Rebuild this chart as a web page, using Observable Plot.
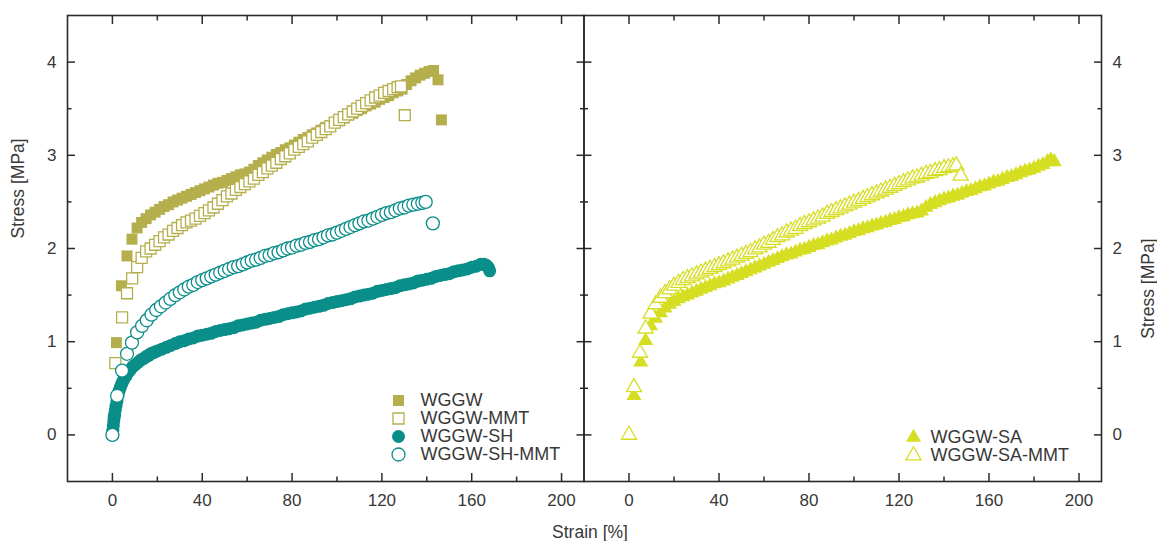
<!DOCTYPE html>
<html><head><meta charset="utf-8">
<script src="https://cdn.jsdelivr.net/npm/d3@7"></script>
<script src="https://cdn.jsdelivr.net/npm/@observablehq/plot@0.6"></script>
<style>
body{margin:0;background:#fff;font-family:"Liberation Sans",Arial,sans-serif;}
#wrap{position:relative;width:1157px;height:541px;overflow:hidden;background:#fff;}
#wrap > div{position:absolute;}
svg{overflow:visible;}
</style></head><body><div id="wrap"></div>
<script>
// ---- data: [strain %, stress MPa] ----
const wggw = [[1.8,0.99],[4,1.6],[6.5,1.92],[8.7,2.1],[11,2.22],[13,2.28],[15,2.32],[17,2.36],[19,2.39],[21,2.42],[23,2.45],[25,2.47],[27,2.5],[29,2.52],[31,2.54],[33,2.56],[35,2.58],[37,2.6],[39,2.62],[41,2.64],[43,2.66],[45,2.68],[47,2.7],[49,2.71],[51,2.73],[53,2.75],[55,2.77],[57,2.79],[59,2.8],[61,2.82],[63,2.85],[65,2.89],[67,2.92],[69,2.95],[71,2.98],[73,3.01],[75,3.03],[77,3.06],[79,3.08],[81,3.11],[83,3.14],[85,3.17],[87,3.19],[89,3.22],[91,3.24],[93,3.27],[95,3.3],[97,3.32],[99,3.35],[101,3.37],[103,3.4],[105,3.43],[107,3.45],[109,3.48],[111,3.5],[113,3.53],[115,3.55],[117,3.57],[119,3.6],[121,3.62],[123,3.64],[125,3.67],[127,3.69],[129,3.71],[131,3.76],[133,3.8],[135,3.83],[137,3.86],[139,3.88],[141,3.9],[143,3.91],[145,3.81],[146.5,3.38]];
const wggwMMT = [[1.3,0.77],[4.3,1.26],[6.5,1.52],[8.8,1.68],[11,1.8],[13,1.9],[15,1.97],[17,2.0],[19,2.04],[21,2.08],[23,2.12],[25,2.15],[27,2.19],[29,2.22],[31,2.25],[33,2.28],[35,2.3],[37,2.32],[39,2.35],[41,2.38],[43,2.41],[45,2.44],[47,2.48],[49,2.52],[51,2.56],[53,2.59],[55,2.63],[57,2.66],[59,2.69],[61,2.72],[63,2.75],[65,2.79],[67,2.82],[69,2.86],[71,2.89],[73,2.92],[75,2.96],[77,2.99],[79,3.02],[81,3.06],[83,3.09],[85,3.12],[87,3.15],[89,3.19],[91,3.22],[93,3.25],[95,3.28],[97,3.31],[99,3.35],[101,3.38],[103,3.41],[105,3.44],[107,3.47],[109,3.5],[111,3.53],[113,3.56],[115,3.59],[117,3.62],[119,3.64],[121,3.67],[123,3.69],[125,3.71],[127,3.73],[128.5,3.74],[130.2,3.43]];
const wggwSH = [[0,0],[0.2,0.05],[0.4,0.1],[0.6,0.15],[0.8,0.19],[1,0.22],[1.3,0.27],[1.6,0.31],[2,0.36],[2.5,0.42],[3,0.47],[3.5,0.51],[4,0.54],[4.5,0.57],[5,0.59],[6,0.63],[7,0.67],[8,0.7],[9,0.73],[10,0.75],[11,0.77],[12,0.79],[13,0.81],[14,0.82],[15,0.84],[16,0.85],[17,0.87],[18,0.88],[19,0.89],[20,0.9],[22,0.92],[24,0.94],[26,0.96],[28,0.98],[30,1.0],[32,1.01],[34,1.03],[36,1.04],[38,1.06],[40,1.07],[42,1.08],[44,1.09],[46,1.11],[48,1.12],[50,1.13],[52,1.14],[54,1.15],[56,1.17],[58,1.18],[60,1.19],[62,1.2],[64,1.21],[66,1.23],[68,1.24],[70,1.25],[72,1.26],[74,1.27],[76,1.29],[78,1.3],[80,1.31],[82,1.32],[84,1.33],[86,1.35],[88,1.36],[90,1.37],[92,1.38],[94,1.39],[96,1.41],[98,1.42],[100,1.43],[102,1.44],[104,1.45],[106,1.46],[108,1.48],[110,1.49],[112,1.5],[114,1.51],[116,1.52],[118,1.54],[120,1.55],[122,1.56],[124,1.57],[126,1.58],[128,1.6],[130,1.61],[132,1.62],[134,1.63],[136,1.65],[138,1.66],[140,1.67],[142,1.68],[144,1.7],[146,1.71],[148,1.72],[150,1.73],[152,1.75],[154,1.76],[156,1.77],[158,1.78],[160,1.8],[162,1.81],[164,1.83],[165.5,1.83],[166.5,1.82],[167.3,1.8],[168,1.76]];
const wggwSHMMT = [[0,0],[2.1,0.42],[4.3,0.69],[6.5,0.87],[8.7,0.99],[11,1.1],[13.2,1.17],[15.3,1.23],[17.4,1.29],[19.5,1.34],[21.6,1.38],[23.7,1.42],[25.8,1.46],[28,1.5],[30,1.53],[32,1.56],[34,1.59],[36,1.61],[38,1.64],[40,1.66],[42,1.68],[44,1.7],[46,1.72],[48,1.74],[50,1.76],[52,1.78],[54,1.8],[56,1.81],[58,1.83],[60,1.85],[62,1.87],[64,1.88],[66,1.9],[68,1.92],[70,1.93],[72,1.95],[74,1.96],[76,1.98],[78,2.0],[80,2.01],[82,2.03],[84,2.04],[86,2.06],[88,2.07],[90,2.09],[92,2.1],[94,2.12],[96,2.14],[98,2.15],[100,2.17],[102,2.19],[104,2.21],[106,2.23],[108,2.25],[110,2.27],[112,2.29],[114,2.3],[116,2.32],[118,2.34],[120,2.36],[122,2.38],[124,2.39],[126,2.41],[128,2.43],[130,2.44],[132,2.46],[134,2.47],[136,2.48],[138,2.49],[139.5,2.5],[142.7,2.27]];
const wggwSA = [[2.2,0.42],[5.2,0.78],[7.4,1.01],[9.6,1.17],[11.8,1.25],[14,1.31],[16,1.36],[18,1.4],[20,1.43],[22,1.46],[24,1.48],[26,1.5],[28,1.52],[30,1.54],[32,1.56],[34,1.58],[36,1.6],[38,1.62],[40,1.63],[42,1.65],[44,1.67],[46,1.69],[48,1.71],[50,1.73],[52,1.75],[54,1.77],[56,1.79],[58,1.81],[60,1.83],[62,1.85],[64,1.87],[66,1.89],[68,1.91],[70,1.93],[72,1.94],[74,1.96],[76,1.98],[78,1.99],[80,2.01],[82,2.03],[84,2.04],[86,2.06],[88,2.08],[90,2.09],[92,2.11],[94,2.13],[96,2.14],[98,2.16],[100,2.18],[102,2.19],[104,2.21],[106,2.22],[108,2.24],[110,2.25],[112,2.27],[114,2.28],[116,2.3],[118,2.31],[120,2.33],[122,2.34],[124,2.36],[126,2.37],[128,2.38],[130,2.4],[132,2.44],[134,2.47],[136,2.49],[138,2.51],[140,2.53],[142,2.54],[144,2.56],[146,2.57],[148,2.59],[150,2.61],[152,2.62],[154,2.64],[156,2.66],[158,2.67],[160,2.69],[162,2.71],[164,2.72],[166,2.74],[168,2.76],[170,2.77],[172,2.79],[174,2.81],[176,2.83],[178,2.84],[180,2.86],[182,2.88],[184,2.9],[186,2.93],[187.5,2.95],[189,2.93]];
const wggwSAMMT = [[0,0],[2.2,0.51],[4.9,0.88],[7.4,1.14],[9.6,1.3],[11.8,1.4],[14,1.47],[16,1.52],[18,1.56],[20,1.6],[22,1.63],[24,1.66],[26,1.68],[28,1.7],[30,1.72],[32,1.74],[34,1.76],[36,1.78],[38,1.8],[40,1.82],[42,1.84],[44,1.86],[46,1.88],[48,1.9],[50,1.92],[52,1.94],[54,1.96],[56,1.99],[58,2.01],[60,2.04],[62,2.06],[64,2.09],[66,2.12],[68,2.14],[70,2.17],[72,2.19],[74,2.21],[76,2.24],[78,2.26],[80,2.28],[82,2.3],[84,2.32],[86,2.34],[88,2.37],[90,2.39],[92,2.41],[94,2.43],[96,2.45],[98,2.47],[100,2.49],[102,2.51],[104,2.53],[106,2.55],[108,2.57],[110,2.59],[112,2.61],[114,2.63],[116,2.65],[118,2.67],[120,2.69],[122,2.71],[124,2.73],[126,2.75],[128,2.76],[130,2.78],[132,2.8],[134,2.81],[136,2.83],[138,2.84],[140,2.86],[142,2.87],[144,2.88],[145.5,2.89],[147.4,2.78]];

const xMajor = [0, 40, 80, 120, 160, 200];
const xMinor = [20, 60, 100, 140, 180];
const yMajor = [0, 1, 2, 3, 4];
const yMinor = [0.5, 1.5, 2.5, 3.5];
const xLabel = "Strain [%]";
const yLabel = "Stress [MPa]";
const leftNames = ["WGGW", "WGGW-MMT", "WGGW-SH", "WGGW-SH-MMT"];
const rightNames = ["WGGW-SA", "WGGW-SA-MMT"];

// ---- styles ----
const OLIVE = "#b4af4c", TEAL = "#0a8e89", YELLOW = "#d6de22";
const style = {
  "WGGW":        {data: wggw,      symbol: "square",   r: 6.2, color: OLIVE,  open: false},
  "WGGW-MMT":    {data: wggwMMT,   symbol: "square",   r: 6.2, color: OLIVE,  open: true},
  "WGGW-SH":     {data: wggwSH,    symbol: "circle",   r: 6.5, color: TEAL,   open: false},
  "WGGW-SH-MMT": {data: wggwSHMMT, symbol: "circle",   r: 6.5, color: TEAL,   open: true},
  "WGGW-SA":     {data: wggwSA,    symbol: "triangle", r: 5.6, color: YELLOW, open: false},
  "WGGW-SA-MMT": {data: wggwSAMMT, symbol: "triangle", r: 5.6, color: YELLOW, open: true}
};
const INK = "#2a2a2a", TXT = "#383838", FS = 17, LFS = 18;

function seriesMark(name, extra = {}) {
  const s = style[name];
  return Plot.dot(extra.data || s.data, {
    x: d => d[0], y: d => d[1],
    symbol: s.symbol, r: s.r,
    fill: s.open ? "white" : s.color,
    stroke: s.open ? s.color : "none",
    strokeWidth: s.open ? 1.3 : 0,
    ...extra.opts
  });
}

function tickAxes() {
  const t = {stroke: INK, strokeWidth: 1.5, tickFormat: () => null, label: null};
  return [
    Plot.axisX({...t, anchor: "bottom", ticks: xMajor, tickSize: -8}),
    Plot.axisX({...t, anchor: "bottom", ticks: xMinor, tickSize: -4.5}),
    Plot.axisX({...t, anchor: "top", ticks: xMajor, tickSize: -8}),
    Plot.axisX({...t, anchor: "top", ticks: xMinor, tickSize: -4.5}),
    Plot.axisY({...t, anchor: "left", ticks: yMajor, tickSize: -8}),
    Plot.axisY({...t, anchor: "left", ticks: yMinor, tickSize: -4.5}),
    Plot.axisY({...t, anchor: "right", ticks: yMajor, tickSize: -8}),
    Plot.axisY({...t, anchor: "right", ticks: yMinor, tickSize: -4.5})
  ];
}

function panel({names, side, width, marginLeft, marginRight}) {
  return Plot.plot({
    width, height: 541,
    marginTop: 15, marginBottom: 60, marginLeft, marginRight,
    style: {background: "transparent", fontFamily: '"Liberation Sans", Arial, sans-serif'},
    x: {domain: [-20, 210]},
    y: {domain: [-0.5, 4.5]},
    marks: [
      ...names.map(n => seriesMark(n)),
      Plot.frame({stroke: INK, strokeWidth: 1.6}),
      ...tickAxes(),
      Plot.axisX({anchor: "bottom", ticks: xMajor, tickSize: 0, tickPadding: 12, tickFormat: d => String(d), fontSize: FS, color: TXT, label: null}),
      Plot.axisY({anchor: side, ticks: yMajor, tickSize: 0, tickPadding: 11, tickFormat: d => String(d), fontSize: FS, color: TXT, label: null}),
      Plot.text([yLabel], {frameAnchor: side, dx: side === "left" ? -49 : 47, dy: -10, rotate: -90,
        text: d => d, fontSize: 17.5, fill: TXT})
    ]
  });
}

function legend(names, {width, rowRange, dxMarker, dxText}) {
  return Plot.plot({
    width, height: rowRange[1] + 10, margin: 0,
    style: {background: "transparent", fontFamily: '"Liberation Sans", Arial, sans-serif'},
    y: {type: "point", domain: names, range: rowRange, padding: 0, axis: null},
    marks: [
      ...names.map(n => seriesMark(n, {data: [n], opts: {x: null, y: d => d, frameAnchor: "left", dx: dxMarker}})),
      Plot.text(names, {y: d => d, frameAnchor: "left", dx: dxText, text: d => d, textAnchor: "start", fontSize: LFS, fill: TXT})
    ]
  });
}

const wrap = document.getElementById("wrap");
function place(node, left, top) {
  const div = document.createElement("div");
  div.style.left = left + "px"; div.style.top = top + "px";
  div.appendChild(node); wrap.appendChild(div);
  return div;
}

place(panel({names: leftNames, side: "left", width: 584, marginLeft: 67, marginRight: 0.5}), 0, 0);
place(panel({names: rightNames, side: "right", width: 574, marginLeft: 0.5, marginRight: 56}), 583, 0);
place(legend(leftNames, {width: 220, rowRange: [8, 64], dxMarker: 10, dxText: 32}), 388, 391);
place(legend(rightNames, {width: 200, rowRange: [8, 26.3], dxMarker: 10, dxText: 27}), 903, 428.7);

const xl = document.createElement("div");
xl.textContent = xLabel;
Object.assign(xl.style, {width: "120px", textAlign: "center", fontSize: "17.5px", lineHeight: "20px", color: TXT});
wrap.appendChild(xl);
xl.style.left = "530px"; xl.style.top = "522px";
</script>
</body></html>
